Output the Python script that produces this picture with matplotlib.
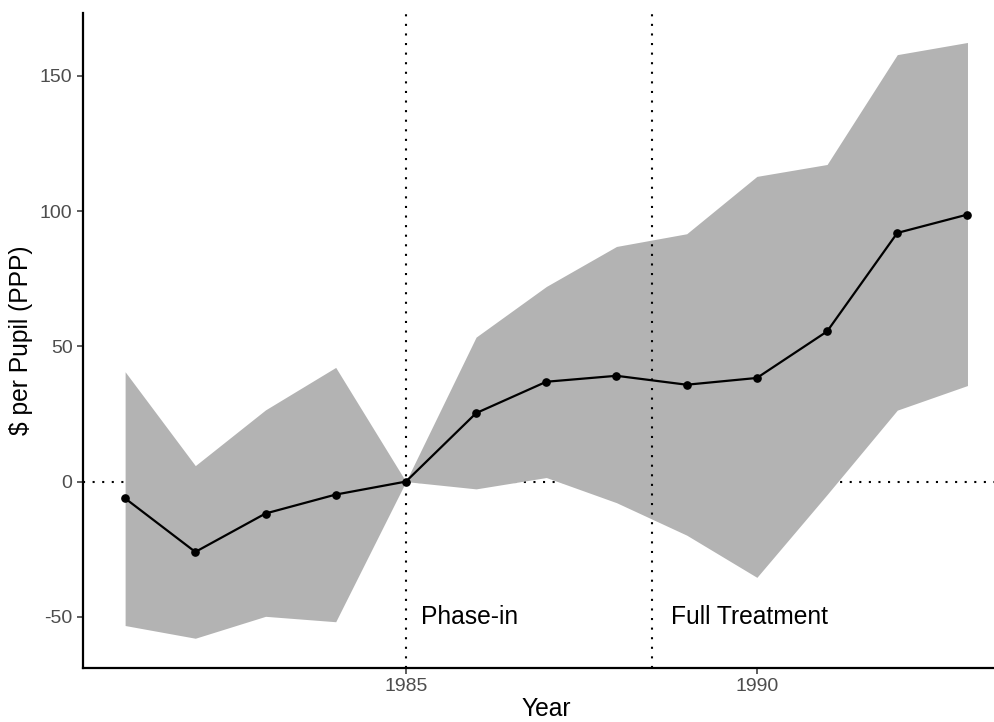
import matplotlib
matplotlib.use("Agg")
import matplotlib.pyplot as plt

plt.rcParams['font.family'] = ['Liberation Sans', 'DejaVu Sans']

years = [1981, 1982, 1983, 1984, 1985, 1986, 1987, 1988, 1989, 1990, 1991, 1992, 1993]
estimate = [-6.2, -26.0, -11.8, -4.8, 0.0, 25.3, 36.9, 39.1, 35.8, 38.3, 55.5, 91.9, 98.7]
ci_upper = [40.6, 5.9, 26.5, 42.2, 0.0, 53.4, 72.1, 86.9, 91.6, 112.8, 117.2, 157.8, 162.3]
ci_lower = [-53.2, -57.9, -49.8, -51.8, 0.0, -2.7, 1.5, -7.8, -19.8, -35.4, -4.8, 26.4, 35.5]

phase_in_year = 1985
full_treatment_year = 1988.5
y_ticks = [-50, 0, 50, 100, 150]
x_ticks = [1985, 1990]

W, H = 995, 722
fig = plt.figure(figsize=(W / 100, H / 100), dpi=100)
left_px, right_px, top_px, bottom_px = 83, 1009.6, 12.7, 668
ax = fig.add_axes([left_px / W, 1 - bottom_px / H,
                   (right_px - left_px) / W, (bottom_px - top_px) / H])

dot = (0, (1, 3.6))
ax.axhline(0, color='black', lw=1.5, linestyle=dot, zorder=1)
ax.fill_between(years, ci_lower, ci_upper, color='#B3B3B3', lw=0, zorder=2)
ax.axvline(phase_in_year, color='black', lw=1.5, linestyle=dot, zorder=3)
ax.axvline(full_treatment_year, color='black', lw=1.5, linestyle=dot, zorder=3)
ax.plot(years, estimate, color='black', lw=1.6, marker='o', markersize=5.2, zorder=4)

ax.text(phase_in_year + 0.22, -50, 'Phase-in', fontsize=17.7, ha='left', va='center', zorder=5)
ax.text(full_treatment_year + 0.28, -50, 'Full Treatment', fontsize=17.7, ha='left', va='center', zorder=5)

ax.set_xlim(1980.4, 1993.6)
ax.set_ylim(-68.9, 173.3)
ax.set_xticks(x_ticks)
ax.set_yticks(y_ticks)
ax.set_xticklabels([str(t) for t in x_ticks])
ax.set_yticklabels([str(t) for t in y_ticks])

for side in ['top', 'right']:
    ax.spines[side].set_visible(False)
for side in ['left', 'bottom']:
    ax.spines[side].set_linewidth(1.6)
    ax.spines[side].set_color('black')

ax.tick_params(axis='both', length=4, width=1.1, color='#333333',
               labelcolor='#4D4D4D', labelsize=14, pad=3.5)

ax.set_xlabel('Year', fontsize=17.7)
ax.set_ylabel('\\$ per Pupil (PPP)', fontsize=17.7)
ax.xaxis.set_label_coords((546 - left_px) / (right_px - left_px), -0.045)
ax.yaxis.set_label_coords(-0.054, 0.5)

fig.savefig('out.png', dpi=100)
